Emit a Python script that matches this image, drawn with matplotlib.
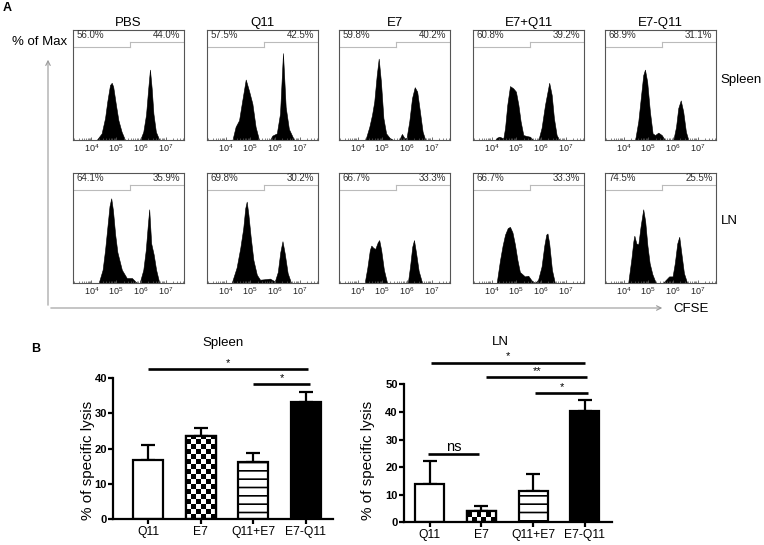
import numpy as np
import matplotlib.pyplot as plt
from matplotlib.patches import FancyArrowPatch

plt.rcParams['font.family'] = ['Liberation Sans', 'DejaVu Sans']
plt.rcParams['mathtext.fontset'] = 'custom'
plt.rcParams['mathtext.rm'] = 'Liberation Sans'
plt.rcParams['hatch.linewidth'] = 1.2

# ---- panel A data: CFSE histograms (x = log10 CFSE, h = fraction of max) ----
groups = ['PBS', 'Q11', 'E7', 'E7+Q11', 'E7-Q11']

spleen_low = [56.0, 57.5, 59.8, 60.8, 68.9]
spleen_high = [44.0, 42.5, 40.2, 39.2, 31.1]
ln_low = [64.1, 69.8, 66.7, 66.7, 74.5]
ln_high = [35.9, 30.2, 33.3, 33.3, 25.5]

sp_pbs_x = [4.21, 4.41, 4.55, 4.64, 4.75, 4.82, 4.88, 4.99, 5.09, 5.22, 5.36,
            5.97, 6.10, 6.21, 6.30, 6.37, 6.44, 6.51, 6.61, 6.75]
sp_pbs_h = [0, 0.06, 0.20, 0.35, 0.50, 0.52, 0.485, 0.32, 0.18, 0.075, 0,
            0, 0.075, 0.23, 0.47, 0.64, 0.47, 0.24, 0.075, 0]
sp_q11_x = [4.28, 4.41, 4.55, 4.68, 4.82, 4.95, 5.09, 5.22, 5.36,
            5.80, 5.90, 6.08, 6.21, 6.33, 6.44, 6.57, 6.78]
sp_q11_h = [0, 0.12, 0.18, 0.36, 0.55, 0.45, 0.33, 0.12, 0,
            0, 0.04, 0.06, 0.24, 0.79, 0.30, 0.10, 0]
sp_e7_x = [4.32, 4.48, 4.59, 4.68, 4.78, 4.86, 4.95, 5.05, 5.16, 5.30, 5.45,
           5.69, 5.80, 5.91, 5.99, 6.10, 6.21, 6.32, 6.42, 6.53, 6.64, 6.75]
sp_e7_h = [0, 0.12, 0.23, 0.35, 0.59, 0.74, 0.53, 0.20, 0.06, 0.02, 0,
           0, 0.055, 0.015, 0.02, 0.17, 0.38, 0.48, 0.44, 0.26, 0.075, 0]
sp_mix_x = [4.15, 4.21, 4.32, 4.48, 4.55, 4.64, 4.75, 4.88, 4.99, 5.09, 5.18, 5.29,
            5.43, 5.56, 5.69, 5.90, 6.03, 6.17, 6.34, 6.44, 6.53, 6.64, 6.75]
sp_mix_h = [0, 0.02, 0.03, 0.015, 0.11, 0.32, 0.49, 0.47, 0.44, 0.32, 0.17, 0.045,
            0.036, 0.03, 0, 0, 0.11, 0.32, 0.52, 0.41, 0.20, 0.045, 0]
sp_conj_x = [4.47, 4.60, 4.70, 4.80, 4.87, 4.96, 5.07, 5.18, 5.28, 5.41, 5.55, 5.68,
             6.02, 6.13, 6.22, 6.32, 6.42, 6.53, 6.63]
sp_conj_h = [0, 0.17, 0.38, 0.59, 0.64, 0.53, 0.26, 0.06, 0.045, 0.067, 0.045, 0,
             0, 0.12, 0.29, 0.36, 0.26, 0.075, 0]

ln_pbs_x = [4.29, 4.45, 4.55, 4.64, 4.73, 4.80, 4.87, 4.96, 5.05, 5.23, 5.43, 5.64, 5.84,
            5.95, 6.10, 6.20, 6.28, 6.34, 6.42, 6.52, 6.62, 6.75]
ln_pbs_h = [0, 0.12, 0.30, 0.50, 0.70, 0.77, 0.66, 0.44, 0.28, 0.12, 0.045, 0.045, 0,
            0, 0.12, 0.30, 0.52, 0.67, 0.36, 0.26, 0.12, 0]
ln_q11_x = [4.25, 4.45, 4.60, 4.72, 4.80, 4.86, 4.93, 5.02, 5.13, 5.27, 5.40, 5.67, 5.80,
            6.00, 6.12, 6.22, 6.31, 6.40, 6.52, 6.66]
ln_q11_h = [0, 0.14, 0.32, 0.50, 0.68, 0.74, 0.62, 0.42, 0.21, 0.075, 0.03, 0.036, 0.04,
            0.015, 0.10, 0.28, 0.38, 0.27, 0.09, 0]
ln_e7_x = [4.29, 4.40, 4.50, 4.56, 4.64, 4.72, 4.82, 4.88, 4.96, 5.07, 5.20,
           6.04, 6.13, 6.22, 6.29, 6.37, 6.48, 6.62]
ln_e7_h = [0, 0.14, 0.30, 0.34, 0.32, 0.31, 0.37, 0.39, 0.30, 0.12, 0,
           0, 0.15, 0.33, 0.39, 0.28, 0.11, 0]
ln_mix_x = [4.21, 4.34, 4.45, 4.55, 4.66, 4.75, 4.85, 4.95, 5.05, 5.15, 5.35, 5.49, 5.62,
            5.76, 5.89, 6.03, 6.14, 6.22, 6.27, 6.34, 6.45, 6.57]
ln_mix_h = [0, 0.20, 0.34, 0.44, 0.50, 0.51, 0.46, 0.35, 0.21, 0.10, 0.06, 0.066, 0.025,
            0, 0.03, 0.15, 0.34, 0.44, 0.45, 0.36, 0.12, 0]
ln_conj_x = [4.19, 4.32, 4.40, 4.44, 4.52, 4.60, 4.69, 4.80, 4.88, 4.97, 5.06, 5.17, 5.31,
             5.60, 5.68, 5.85, 5.99, 6.08, 6.18, 6.26, 6.34, 6.45, 6.58]
ln_conj_h = [0, 0.22, 0.38, 0.43, 0.36, 0.35, 0.51, 0.67, 0.56, 0.34, 0.18, 0.08, 0,
             0, 0.02, 0.06, 0.06, 0.18, 0.36, 0.42, 0.28, 0.09, 0]

gate_split = 5.57  # log10 position of the gate step

# ---- panel B data: % specific lysis ----
bar_groups = ['Q11', 'E7', 'Q11+E7', 'E7-Q11']
spleen_mean = [16.7, 23.6, 16.1, 33.2]
spleen_err = [4.3, 2.1, 2.7, 2.8]
ln_mean = [13.8, 4.1, 11.3, 40.3]
ln_err = [8.4, 1.9, 6.1, 4.0]
# (from, to, label, line y, label y)
spleen_sig = [(0.0, 3.05, '*', 42.4, 44.2), (2.0, 3.08, '*', 38.1, 40.0)]
ln_sig = [(0.03, 3.0, '*', 57.8, 60.3), (1.09, 3.05, '**', 52.5, 54.8),
          (2.03, 3.07, '*', 47.0, 49.1), (-0.03, 0.96, 'ns', 24.6, 27.4)]

W, H = 764, 545
fig = plt.figure(figsize=(W / 100, H / 100), dpi=100)


def box(l, t, w, h):
    return fig.add_axes([l / W, 1 - (t + h) / H, w / W, h / H])


def fx(x):
    return x / W


def fy(y):
    return 1 - y / H


spleen_hists = [(sp_pbs_x, sp_pbs_h), (sp_q11_x, sp_q11_h), (sp_e7_x, sp_e7_h),
                (sp_mix_x, sp_mix_h), (sp_conj_x, sp_conj_h)]
ln_hists = [(ln_pbs_x, ln_pbs_h), (ln_q11_x, ln_q11_h), (ln_e7_x, ln_e7_h),
            (ln_mix_x, ln_mix_h), (ln_conj_x, ln_conj_h)]

box_left = [73, 207, 339, 473, 605]
rows = [(30, spleen_hists, spleen_low, spleen_high, True),
        (173, ln_hists, ln_low, ln_high, False)]
xmin, xmax = 10 ** 3.25, 10 ** 7.75
for top, hists, lo, hi, titled in rows:
    for i, g in enumerate(groups):
        ax = box(box_left[i], top, 111, 110)
        lx, hy = hists[i]
        ax.fill_between(10 ** np.array(lx), hy, 0, facecolor='black',
                        edgecolor='black', lw=0.4)
        ax.set_xscale('log')
        ax.set_xlim(xmin, xmax)
        ax.set_ylim(0, 1)
        ax.set_yticks([])
        ax.set_xticks([1e4, 1e5, 1e6, 1e7])
        ax.set_xticklabels([r'$10^4$', r'$10^5$', r'$10^6$', r'$10^7$'])
        ax.tick_params(axis='x', which='major', direction='in', length=2.5,
                       width=0.6, colors='#555555', labelsize=6.5, pad=2,
                       labelcolor='#222222')
        ax.tick_params(axis='x', which='minor', direction='in', length=1.5,
                       width=0.5, colors='#555555')
        for s in ax.spines.values():
            s.set_color('#555555')
            s.set_linewidth(0.8)
        gs = 10 ** gate_split
        ax.plot([xmin, gs], [0.848, 0.848], color='#bbbbbb', lw=0.8)
        ax.plot([gs, gs], [0.848, 0.894], color='#bbbbbb', lw=0.8)
        ax.plot([gs, xmax], [0.894, 0.894], color='#bbbbbb', lw=0.8)
        ax.text(0.03, 0.955, '%.1f%%' % lo[i], transform=ax.transAxes,
                ha='left', va='center', fontsize=7, color='#333333')
        ax.text(0.97, 0.955, '%.1f%%' % hi[i], transform=ax.transAxes,
                ha='right', va='center', fontsize=7, color='#333333')
        if titled:
            ax.set_title(g, fontsize=9.5, pad=3)

fig.text(fx(3), fy(8), 'A', fontsize=9, fontweight='bold', va='center')
fig.text(fx(40), fy(42), '% of Max', fontsize=9.5, ha='center', va='center')
fig.text(fx(720), fy(80), 'Spleen', fontsize=9.5, va='center')
fig.text(fx(721), fy(221), 'LN', fontsize=9.5, va='center')
fig.text(fx(673), fy(309), 'CFSE', fontsize=9.5, va='center')
for a, b in [((48, 308), (48, 57)), ((48, 308), (665, 308))]:
    fig.add_artist(FancyArrowPatch((fx(a[0]), fy(a[1])), (fx(b[0]), fy(b[1])),
                                   transform=fig.transFigure, arrowstyle='->',
                                   mutation_scale=8, color='#999999', lw=0.8))

# ---- panel B ----
fig.text(fx(36), fy(349), 'B', fontsize=9, fontweight='bold', ha='center', va='center')


def bar_panel(ax, means, errs, width, xlim, ylim, spine_top, yticks, sig):
    x = np.arange(len(means))
    faces = ['white', 'white', 'white', 'black']
    bars = ax.bar(x, means, width=width, color=faces, edgecolor='black',
                  linewidth=1.6, zorder=2)
    bars[2].set_hatch('--')
    ax.errorbar(x, means, yerr=[np.zeros(len(errs)), errs], fmt='none',
                ecolor='black', elinewidth=1.6, capsize=5.2, capthick=1.6, zorder=1)
    ax.set_xlim(*xlim)
    ax.set_ylim(*ylim)
    # checkerboard fill for the E7 bar
    b = bars[1]
    x0, w, hgt = b.get_x(), b.get_width(), b.get_height()
    p0 = ax.transData.transform((0, 0))
    p1 = ax.transData.transform((w, 1))
    cell_px = (p1[0] - p0[0]) / 6
    cell_y = cell_px / (p1[1] - p0[1])
    nrows = int(np.ceil(hgt / cell_y))
    checker = np.indices((nrows, 6)).sum(0) % 2
    im = ax.imshow(checker, cmap='gray_r', extent=(x0, x0 + w, 0, nrows * cell_y),
                   origin='lower', aspect='auto', interpolation='nearest', zorder=2.5)
    im.set_clip_path(b)
    ax.bar([x[1]], [means[1]], width=width, facecolor='none', edgecolor='black',
           linewidth=1.6, zorder=3)
    ax.set_xlim(*xlim)
    ax.set_ylim(*ylim)
    for s in ['top', 'right']:
        ax.spines[s].set_visible(False)
    ax.spines['left'].set_bounds(0, spine_top)
    for s in ['left', 'bottom']:
        ax.spines[s].set_linewidth(1.6)
    ax.set_yticks(yticks)
    ax.set_yticklabels([str(t) for t in yticks], fontweight='bold')
    ax.set_xticks(x)
    ax.set_xticklabels(bar_groups)
    ax.tick_params(axis='y', length=3.5, width=1.6, labelsize=8, pad=1)
    ax.tick_params(axis='x', length=3.5, width=1.6, labelsize=8.7, pad=1.5)
    for a, c, lab, ly, ty in sig:
        ax.plot([a, c], [ly, ly], color='black', lw=1.9, clip_on=False,
                solid_capstyle='butt')
        ax.text((a + c) / 2, ty, lab, ha='center', va='center',
                fontsize=10.5 if lab == 'ns' else 8)


ax_sp = box(113.3, 349.4, 219.7, 169.9)
bar_panel(ax_sp, spleen_mean, spleen_err, 0.57, (-0.66, 3.52), (0, 48), 40,
          [0, 10, 20, 30, 40], spleen_sig)
ax_ln = box(404, 345.7, 207.7, 176.6)
bar_panel(ax_ln, ln_mean, ln_err, 0.56, (-0.5, 3.52), (0, 64), 50,
          [0, 10, 20, 30, 40, 50], ln_sig)

fig.text(fx(223), fy(343), 'Spleen', fontsize=9.5, ha='center', va='center')
fig.text(fx(500.7), fy(341.7), 'LN', fontsize=9.5, ha='center', va='center')
fig.text(fx(88), fy(460), '% of specific lysis', fontsize=11, rotation=90,
         ha='center', va='center')
fig.text(fx(368.3), fy(460), '% of specific lysis', fontsize=11, rotation=90,
         ha='center', va='center')

fig.savefig('out.png', dpi=100)
